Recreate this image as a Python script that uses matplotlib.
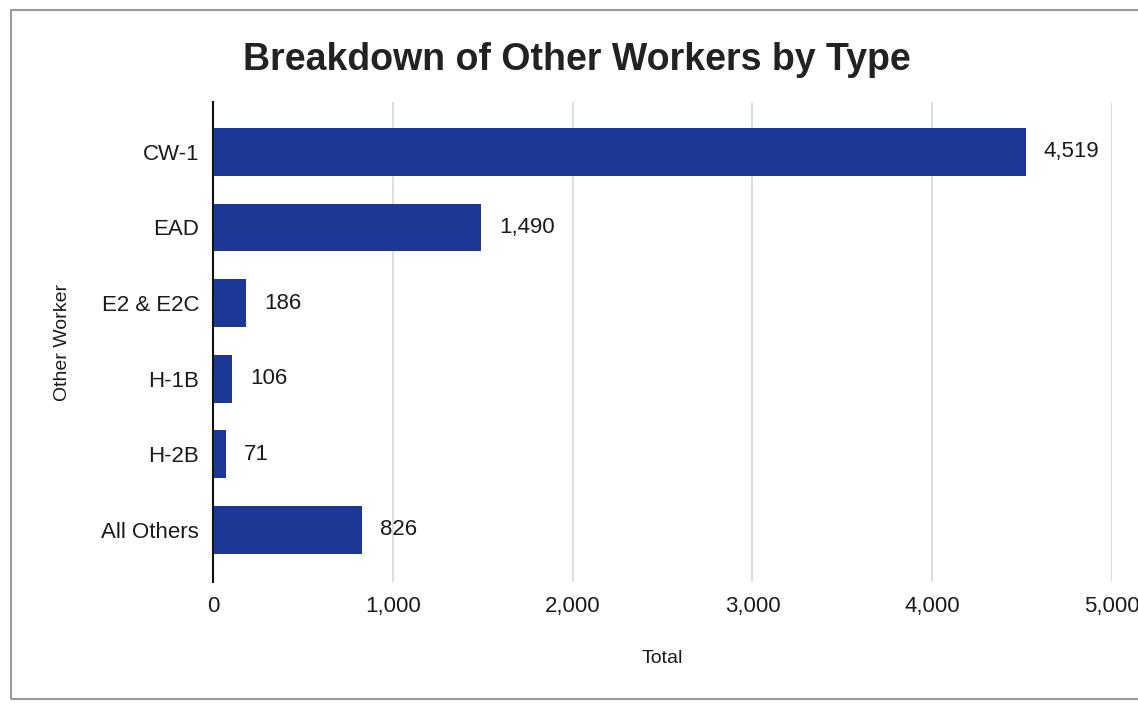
import matplotlib.pyplot as plt
from matplotlib.patches import Rectangle
from matplotlib.ticker import FuncFormatter

categories = ["CW-1", "EAD", "E2 & E2C", "H-1B", "H-2B", "All Others"]
totals = [4519, 1490, 186, 106, 71, 826]
xticks = [0, 1000, 2000, 3000, 4000, 5000]

plt.rcParams['font.family'] = ['Liberation Sans', 'DejaVu Sans']

fig = plt.figure(figsize=(11.38, 7.03), dpi=100)
fig.patches.append(Rectangle((0.0097, 0.005), 1.2, 0.981, transform=fig.transFigure,
                             fill=False, edgecolor="#9a9a9a", linewidth=1.5))

ax = fig.add_axes([0.1872, 0.172, 0.790, 0.683])
bars = ax.barh(categories, totals, height=0.63, color="#1b3896", zorder=3)

ax.set_xlim(0, 5000)
ax.set_ylim(5.69, -0.66)
ax.set_xticks(xticks)
ax.xaxis.set_major_formatter(FuncFormatter(lambda v, p: f"{int(v):,}"))
ax.grid(axis="x", color="#d8d8d8", linewidth=1.2, zorder=0)
ax.tick_params(length=0, labelsize=16, colors="#1a1a1a", pad=10)
ax.tick_params(axis="x", pad=10)
for s in ["top", "right", "bottom"]:
    ax.spines[s].set_visible(False)
ax.spines["left"].set_color("#111111")
ax.spines["left"].set_linewidth(1.5)
ax.spines["left"].set_zorder(4)

for b, v in zip(bars, totals):
    ax.annotate(f"{v:,}", (v, b.get_y() + b.get_height() / 2), xytext=(13, 0),
                textcoords="offset points", va="center", ha="left",
                fontsize=16, color="#1a1a1a")

ax.set_xlabel("Total", fontsize=14, color="#1a1a1a", labelpad=24)
ax.set_ylabel("Other Worker", fontsize=14, color="#1a1a1a", labelpad=22)

fig.text(0.507, 0.915, "Breakdown of Other Workers by Type", ha="center", va="center",
         fontsize=27, fontweight="bold", color="#222222")

fig.savefig("out.png", dpi=100)
